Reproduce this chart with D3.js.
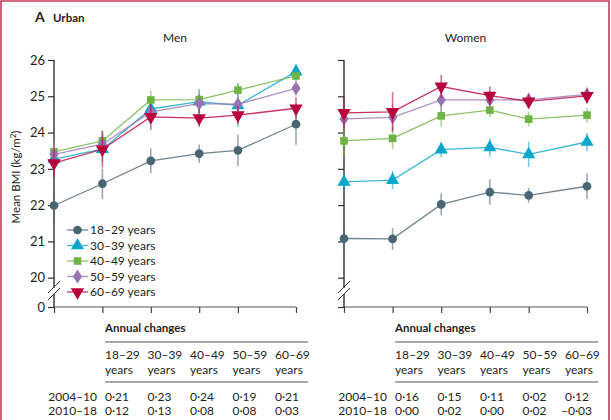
<!DOCTYPE html>
<html><head><meta charset="utf-8">
<script src="https://cdn.jsdelivr.net/npm/d3@7"></script>
<style>
body{margin:0;background:#fff;}
svg{display:block;font-family:Lato,"Open Sans",sans-serif;}
</style></head>
<body><svg id="c" width="611" height="420"></svg>
<script>
const years = [2004, 2007, 2010, 2013, 2015, 2018];
const xFrac = [0, 0.2, 0.4, 0.6, 0.76, 1];
const groups = ["18–29 years", "30–39 years", "40–49 years", "50–59 years", "60–69 years"];
const colors = ["#4a6674", "#0aa6cc", "#6fb443", "#9a73b3", "#b8003c"];
const symbols = ["circle", "triangleUp", "square", "diamond", "triangleDown"];
const yTicks = [20, 21, 22, 23, 24, 25, 26];

const men18 = [21.99, 22.59, 23.22, 23.42, 23.51, 24.23];
const men30 = [23.27, 23.54, 24.65, 24.85, 24.75, 25.68];
const men40 = [23.47, 23.77, 24.90, 24.91, 25.17, 25.56];
const men50 = [23.40, 23.68, 24.57, 24.80, 24.78, 25.22];
const men60 = [23.16, 23.54, 24.43, 24.40, 24.48, 24.67];
const menErr18 = [0.48, 0.42, 0.34, 0.25, 0.43, 0.57];
const menErr30 = [0.30, 0.35, 0.25, 0.35, 0.60, 0.20];
const menErr40 = [0.25, 0.30, 0.25, 0.25, 0.20, 0.15];
const menErr50 = [0.45, 0.30, 0.20, 0.25, 0.20, 0.20];
const menErr60 = [0.40, 0.50, 0.35, 0.25, 0.25, 0.30];

const women18 = [21.08, 21.07, 22.02, 22.36, 22.27, 22.52];
const women30 = [22.64, 22.69, 23.53, 23.59, 23.40, 23.74];
const women40 = [23.77, 23.84, 24.46, 24.62, 24.37, 24.48];
const women50 = [24.38, 24.42, 24.90, 24.90, 24.90, 25.05];
const women60 = [24.54, 24.57, 25.27, 25.02, 24.86, 25.01];
const womenErr18 = [0.30, 0.30, 0.30, 0.35, 0.20, 0.35];
const womenErr30 = [0.25, 0.25, 0.20, 0.25, 0.35, 0.25];
const womenErr40 = [0.40, 0.30, 0.30, 0.20, 0.20, 0.20];
const womenErr50 = [0.30, 0.35, 0.35, 0.25, 0.20, 0.20];
const womenErr60 = [0.45, 0.55, 0.32, 0.25, 0.20, 0.20];

const tableHeads = ["18–29", "30–39", "40–49", "50–59", "60–69"];
const periods = ["2004–10", "2010–18"];
const menChanges = [["0·21", "0·23", "0·24", "0·19", "0·21"], ["0·12", "0·13", "0·08", "0·08", "0·03"]];
const womenChanges = [["0·16", "0·15", "0·11", "0·02", "0·12"], ["0·00", "0·02", "0·00", "0·02", "–0·03"]];

const svg = d3.select("#c");
const textCol = "#231f20";

// border
svg.append("path").attr("d", "M1,420V1H609V420").attr("fill", "none").attr("stroke", "#c8385a").attr("stroke-width", 1.6);

svg.append("text").attr("x", 35).attr("y", 22).attr("font-weight", 700).attr("font-size", 14).attr("fill", textCol).text("A");
svg.append("text").attr("x", 53).attr("y", 22).attr("font-weight", 700).attr("font-size", 11.5).attr("fill", textCol).text("Urban");

const yTop = 60, y20 = 277.7, yZero = 307;
const y = d3.scaleLinear().domain([20, 26]).range([y20, yTop]);

const symMap = {circle: d3.symbolCircle, triangleUp: d3.symbolTriangle, triangleDown: d3.symbolTriangle, square: d3.symbolSquare, diamond: d3.symbolDiamond};
const symSize = {circle: 60, triangleUp: 75, triangleDown: 78, square: 58, diamond: 55};
function drawSymbol(g, name, cx, cy, color) {
  g.append("path").attr("d", d3.symbol().type(symMap[name]).size(symSize[name])())
    .attr("transform", `translate(${cx},${cy})` + (name === "triangleDown" ? " rotate(180)" : "") + (name === "diamond" ? " scale(1.15,1)" : ""))
    .attr("fill", color);
}

function panel(x0, x1, title, series, errs, labels, changes) {
  const x = d3.scaleLinear().domain(years).range(xFrac.map(f => x0 + f * (x1 - x0)));
  const g = svg.append("g");
  g.append("text").attr("x", (x0 + x1) / 2).attr("y", 42).attr("text-anchor", "middle").attr("font-size", 12).attr("fill", textCol).text(title);

  // y axis
  const ya = g.append("g").attr("transform", `translate(${x0},0)`)
    .call(d3.axisLeft(y).tickValues(yTicks).tickSize(6).tickFormat(labels ? d3.format("d") : ""));
  ya.select(".domain").remove();
  ya.selectAll("line").attr("stroke", "#333").attr("stroke-width", 1.2);
  ya.selectAll("text").attr("font-size", 13).attr("fill", textCol).attr("font-family", "Lato,sans-serif").attr("x", -9);
  const yb = g.append("g").attr("transform", `translate(${x0},0)`)
    .call(d3.axisLeft(d3.scaleLinear().domain([0, 1]).range([yZero, yZero - 1])).tickValues([0]).tickSize(6).tickFormat(labels ? d3.format("d") : ""));
  yb.select(".domain").remove();
  yb.selectAll("line").attr("stroke", "#333").attr("stroke-width", 1.2);
  yb.selectAll("text").attr("font-size", 13).attr("fill", textCol).attr("font-family", "Lato,sans-serif").attr("x", -9);
  g.append("line").attr("x1", x0).attr("x2", x0).attr("y1", yTop).attr("y2", 288).attr("stroke", "#222").attr("stroke-width", 1.3);
  g.append("line").attr("x1", x0).attr("x2", x0).attr("y1", 294).attr("y2", yZero).attr("stroke", "#222").attr("stroke-width", 1.3);
  g.append("line").attr("x1", x0 - 6).attr("x2", x0 + 6).attr("y1", 293).attr("y2", 281).attr("stroke", "#333").attr("stroke-width", 1);
  g.append("line").attr("x1", x0 - 6).attr("x2", x0 + 6).attr("y1", 300).attr("y2", 288).attr("stroke", "#333").attr("stroke-width", 1);

  // x axis
  const xa = g.append("g").attr("transform", `translate(0,${yZero})`)
    .call(d3.axisBottom(x).tickValues(years).tickSize(6).tickFormat(""));
  xa.select(".domain").attr("stroke", "#555").attr("stroke-width", 1.2).attr("d", `M${x0},0H${x1}`);
  xa.selectAll("line").attr("stroke", "#444").attr("stroke-width", 1.2);

  // series
  series.forEach((vals, i) => {
    const sg = g.append("g");
    sg.selectAll("line.err").data(vals).join("line")
      .attr("x1", (d, j) => x(years[j])).attr("x2", (d, j) => x(years[j]))
      .attr("y1", (d, j) => y(d - errs[i][j])).attr("y2", (d, j) => y(d + errs[i][j]))
      .attr("stroke", colors[i]).attr("stroke-width", 1.6).attr("opacity", 0.55);
    sg.append("path").datum(vals)
      .attr("d", d3.line().x((d, j) => x(years[j])).y(d => y(d)))
      .attr("fill", "none").attr("stroke", colors[i]).attr("stroke-width", 1.3).attr("opacity", 0.8);
    vals.forEach((d, j) => drawSymbol(sg, symbols[i], x(years[j]), y(d), colors[i]));
  });

  // table
  const tx0 = x0 + 51;
  const colX = d3.scalePoint().domain(d3.range(5)).range([tx0, tx0 + 170]);
  g.append("text").attr("x", tx0).attr("y", 332).attr("font-weight", 700).attr("font-size", 11.5).attr("fill", textCol).text("Annual changes");
  g.append("line").attr("x1", tx0).attr("x2", tx0 + 203).attr("y1", 342).attr("y2", 342).attr("stroke", "#555").attr("stroke-width", 1);
  g.append("line").attr("x1", tx0).attr("x2", tx0 + 203).attr("y1", 382).attr("y2", 382).attr("stroke", "#555").attr("stroke-width", 1);
  tableHeads.forEach((h, k) => {
    g.append("text").attr("x", colX(k)).attr("y", 359).attr("font-size", 12).attr("fill", textCol).text(h);
    g.append("text").attr("x", colX(k)).attr("y", 374).attr("font-size", 12).attr("fill", textCol).text("years");
  });
  periods.forEach((p, r) => {
    g.append("text").attr("x", tx0 - 8).attr("y", 401 + r * 14).attr("text-anchor", "end").attr("font-size", 12).attr("fill", textCol).text(p);
    changes[r].forEach((v, k) => {
      g.append("text").attr("x", colX(k) + (v.startsWith("–") ? -4 : 0)).attr("y", 401 + r * 14).attr("font-size", 12).attr("fill", textCol).text(v);
    });
  });
}

panel(54, 296, "Men", [men18, men30, men40, men50, men60], [menErr18, menErr30, menErr40, menErr50, menErr60], true, menChanges);
panel(344, 587, "Women", [women18, women30, women40, women50, women60], [womenErr18, womenErr30, womenErr40, womenErr50, womenErr60], false, womenChanges);

// y label
svg.append("text").attr("transform", "translate(20,177) rotate(-90)").attr("text-anchor", "middle").attr("font-size", 11.5).attr("fill", textCol)
  .html('Mean BMI (kg/m<tspan dy="-4" font-size="8">2</tspan><tspan dy="4">)</tspan>');

// legend
const lg = svg.append("g");
groups.forEach((name, i) => {
  const ly = 230 + i * 15.5;
  lg.append("line").attr("x1", 67).attr("x2", 88).attr("y1", ly).attr("y2", ly).attr("stroke", colors[i]).attr("stroke-width", 1.3).attr("opacity", 0.8);
  drawSymbol(lg, symbols[i], 77.5, ly, colors[i]);
  lg.append("text").attr("x", 90).attr("y", ly + 4).attr("font-size", 12).attr("fill", textCol).text(name);
});
</script></body></html>
